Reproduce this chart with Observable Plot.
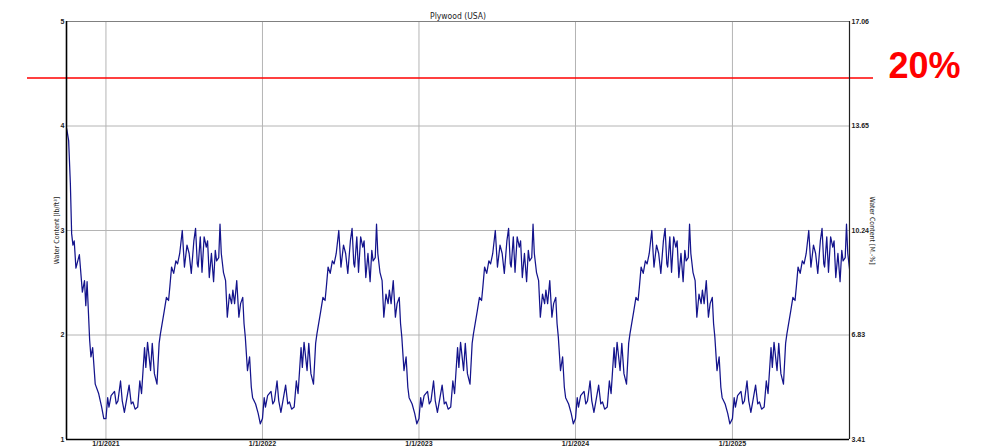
<!DOCTYPE html>
<html><head><meta charset="utf-8">
<script src="https://cdn.jsdelivr.net/npm/d3@7"></script>
<script src="https://cdn.jsdelivr.net/npm/@observablehq/plot@0.6"></script>
<style>html,body{margin:0;padding:0;background:#fff}</style>
</head><body><div id="chart"></div>
<script>
const title = "Plywood (USA)";
const leftLabel = "Water Content [lb/ft³]";
const rightLabel = "Water Content [M.-%]";
const leftTicks = [1, 2, 3, 4, 5];
const rightTickLabels = ["3.41", "6.83", "10.24", "13.65", "17.06"];
const xTickYears = [2021, 2022, 2023, 2024, 2025];
const xTickLabels = ["1/1/2021", "1/1/2022", "1/1/2023", "1/1/2024", "1/1/2025"];
const startDate = "2020-10-01";
const endDate = "2025-10-01";
const years = [2021, 2022, 2023, 2024, 2025];
// initial drying, autumn 2020 (days relative to 1/1/2021)
const startDays = [-92,-91,-87,-83,-80,-77,-74,-70,-62,-55,-50,-47,-44,-38,-35,-31,-25,-17,-10,-5];
const startWater = [3.98,3.96,3.86,3.45,2.97,2.86,2.90,2.64,2.77,2.41,2.52,2.28,2.51,1.95,1.79,1.88,1.53,1.44,1.31,1.20];
// yearly cycle (days from 1 January)
const cycleDays = [0,4,7,12,20,24,28,34,38,43,49,54,59,63,68,74,79,83,90,93,97,104,108,113,119,124,127,136,141,146,149,153,158,163,167,172,178,183,189,194,199,205,209,213,215,220,224,229,234,237,241,246,251,255,258,263,266,269,274,279,283,288,293,296,300,305,310,314,319,322,325,330,335,339,342,349,355,360];
const cycleWater = [1.20,1.40,1.31,1.42,1.46,1.34,1.37,1.56,1.37,1.26,1.40,1.52,1.34,1.36,1.29,1.31,1.56,1.44,1.88,1.69,1.93,1.66,1.92,1.63,1.53,1.92,2.01,2.23,2.36,2.33,2.46,2.65,2.59,2.71,2.68,2.78,3.00,2.65,2.86,2.78,2.59,2.90,3.02,2.68,2.65,2.94,2.60,2.94,2.84,2.90,2.55,2.78,2.51,2.81,2.71,2.74,3.06,2.78,2.60,2.52,2.17,2.39,2.30,2.43,2.30,2.52,2.17,2.30,2.36,2.11,1.98,1.66,1.79,1.50,1.40,1.34,1.25,1.15];
const limitValue = [4.46];
const limitLabel = ["20%"];

const DAY = 864e5;
const start = new Date(startDate + "T00:00:00Z");
const end = new Date(endDate + "T00:00:00Z");
const data = [];
startDays.forEach((d, i) => data.push({date: new Date(Date.UTC(2021, 0, 1) + d * DAY), water: startWater[i]}));
years.forEach(y => cycleDays.forEach((d, i) => {
  const date = new Date(Date.UTC(y, 0, 1) + d * DAY);
  if (date <= new Date(+end + 4 * DAY)) data.push({date, water: cycleWater[i]});
}));
const yearDates = xTickYears.map(y => new Date(Date.UTC(y, 0, 1)));
const font = "'Liberation Sans', Arial, sans-serif";
const narrow = "'Liberation Sans Narrow', 'Arial Narrow', 'DejaVu Sans Condensed', 'Liberation Sans', sans-serif";

const chart = Plot.plot({
  width: 994, height: 446,
  marginLeft: 66, marginRight: 145, marginTop: 21, marginBottom: 7,
  x: {type: "utc", domain: [start, end]},
  y: {domain: [1, 5]},
  style: {fontFamily: font, fontSize: "7px", background: "#fff", color: "#222", overflow: "visible"},
  marks: [
    Plot.ruleX(yearDates, {stroke: "#b4b4b4", strokeWidth: 1}),
    Plot.ruleY([2, 3, 4], {stroke: "#b4b4b4", strokeWidth: 1}),
    Plot.ruleY([5], {stroke: "#808080", strokeWidth: 1.2}),
    Plot.ruleY(limitValue, {stroke: "#ff0000", strokeWidth: 1.5, insetLeft: -39, insetRight: -24}),
    Plot.line(data, {x: "date", y: "water", stroke: "#14148c", strokeWidth: 1.25, clip: true}),
    Plot.ruleY([1], {stroke: "#000", strokeWidth: 1.5}),
    Plot.ruleX([start], {stroke: "#000", strokeWidth: 1.6}),
    Plot.ruleX([end], {stroke: "#222", strokeWidth: 1.2}),
    Plot.axisY({anchor: "left", ticks: leftTicks, tickSize: 0, tickPadding: 2, label: null, fontWeight: "bold", tickFormat: d => String(d)}),
    Plot.axisY({anchor: "right", ticks: leftTicks, tickSize: 0, tickPadding: 2, label: null, fontWeight: "bold", tickFormat: d => rightTickLabels[leftTicks.indexOf(d)]}),
    Plot.axisX({ticks: yearDates, tickSize: 0, tickPadding: 2, label: null, fontWeight: "bold", tickFormat: d => xTickLabels[xTickYears.indexOf(d.getUTCFullYear())]}),
    Plot.text([title], {frameAnchor: "top", dy: -9, fontSize: 8.5, fontFamily: narrow, fill: "#222"}),
    Plot.text([leftLabel], {frameAnchor: "left", textAnchor: "middle", rotate: -90, dx: -10, fontSize: 7, fontFamily: narrow, fill: "#222"}),
    Plot.text([rightLabel], {frameAnchor: "right", textAnchor: "middle", rotate: 90, dx: 23, fontSize: 7, fontFamily: narrow, fill: "#222"}),
    Plot.text(limitValue, {y: d => d, text: (d, i) => limitLabel[i], frameAnchor: "right", dx: 39, textAnchor: "start", lineAnchor: "bottom", fontSize: 36, fontWeight: "bold", fill: "#ff0000", fontFamily: font})
  ]
});
document.getElementById("chart").appendChild(chart);
</script>
</body></html>
